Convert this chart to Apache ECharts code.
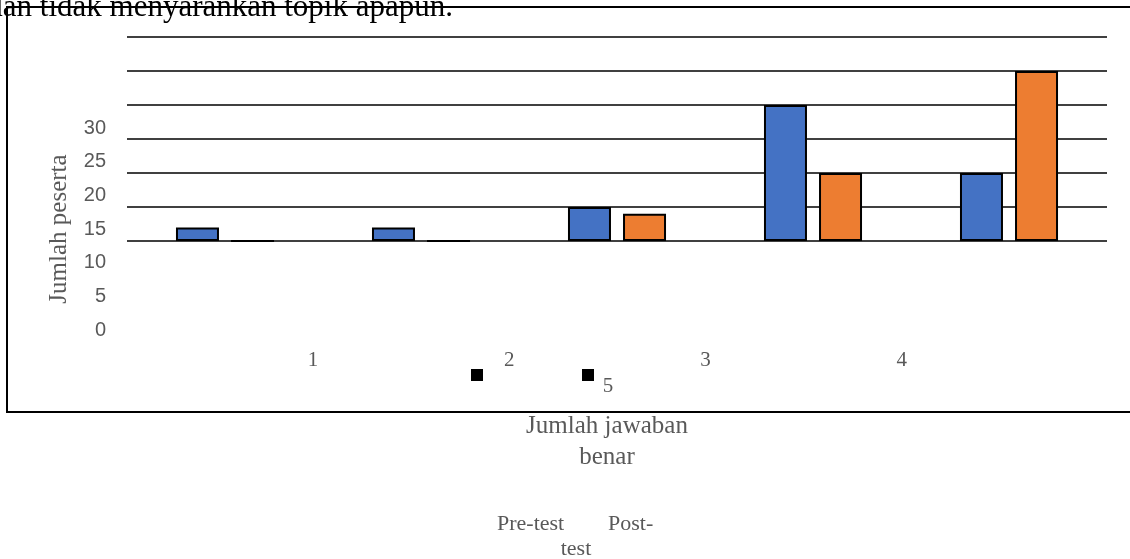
<!DOCTYPE html>
<html>
<head>
<meta charset="utf-8">
<script src="https://cdn.jsdelivr.net/npm/echarts@6/dist/echarts.min.js"></script>
<style>
html,body{margin:0;padding:0;background:#fff;}
#chart{width:1130px;height:559px;}
</style>
</head>
<body>
<div id="chart"></div>
<script>
const categories = ['1', '2', '3', '4', '5'];
const preTest = [2, 2, 5, 20, 10];
const postTest = [0, 0, 4, 10, 25];
const seriesNames = ['Pre-test', 'Post-test'];
const yMin = 0, yMax = 30, yStep = 5;
const headText = 'dan tidak menyarankan topik apapun.';
const yTitle = 'Jumlah peserta';
const xTitle = 'Jumlah jawaban\nbenar';

const serif = '"Liberation Serif", "Times New Roman", serif';
const sans = '"Liberation Sans", Arial, sans-serif';
const gray = '#595959';

const chart = echarts.init(document.getElementById('chart'));
chart.setOption({
  animation: false,
  backgroundColor: '#fff',
  grid: [
    {left: 127, right: 23, top: 37, bottom: 318},
    {left: 127, width: 10, top: 128, bottom: 229},
    {left: 313, width: 785, top: 100, bottom: 209}
  ],
  xAxis: [
    {gridIndex: 0, type: 'category', data: categories,
      axisLine: {show: false}, axisTick: {show: false}, axisLabel: {show: false}, splitLine: {show: false}},
    {gridIndex: 1, type: 'category', show: false},
    {gridIndex: 2, type: 'category', data: categories, boundaryGap: false,
      axisLine: {show: false}, axisTick: {show: false}, splitLine: {show: false},
      axisLabel: {interval: 0, color: gray, fontFamily: serif, fontSize: 21, margin: 10, verticalAlign: 'middle',
        formatter: (v, i) => (i < categories.length - 1 ? v : '')}}
  ],
  yAxis: [
    {gridIndex: 0, type: 'value', min: yMin, max: yMax, interval: yStep,
      axisLabel: {show: false}, axisLine: {show: false}, axisTick: {show: false},
      splitLine: {show: true, lineStyle: {color: '#000', width: 1.5}}},
    {gridIndex: 1, type: 'value', min: yMin, max: yMax, interval: yStep,
      axisLine: {show: false}, axisTick: {show: false}, splitLine: {show: false},
      axisLabel: {color: gray, fontFamily: sans, fontSize: 20, margin: 21},
      name: yTitle, nameLocation: 'middle', nameRotate: 90, nameGap: 55,
      nameTextStyle: {color: gray, fontFamily: serif, fontSize: 25}},
    {gridIndex: 2, type: 'value', show: false}
  ],
  legend: {
    data: seriesNames, left: 466, top: 364, icon: 'rect', itemWidth: 12, itemHeight: 12, itemGap: 99,
    formatter: () => '', itemStyle: {color: '#000', borderWidth: 0}, selectedMode: false
  },
  series: [
    {name: seriesNames[0], type: 'bar', xAxisIndex: 0, yAxisIndex: 0, data: preTest,
      barWidth: 43, barGap: '28%',
      itemStyle: {color: '#4472C4', borderColor: '#000', borderWidth: 2}},
    {name: seriesNames[1], type: 'bar', xAxisIndex: 0, yAxisIndex: 0, data: postTest,
      barWidth: 43, barGap: '28%',
      itemStyle: {color: '#ED7D31', borderColor: '#000', borderWidth: 2}}
  ],
  graphic: [
    {type: 'rect', z: 100, shape: {x: 7, y: 7, width: 1200, height: 405},
      style: {fill: 'none', stroke: '#000', lineWidth: 2}},
    {type: 'text', z: 101, x: 453, y: 8,
      style: {text: headText, font: '31px ' + serif, fill: '#000', align: 'right', verticalAlign: 'middle'}},
    {type: 'text', x: 607, y: 411,
      style: {text: xTitle, font: '25px ' + serif, fill: gray, align: 'center', verticalAlign: 'top', lineHeight: 31}},
    {type: 'text', x: 608, y: 386,
      style: {text: categories[4], font: '21px ' + serif, fill: gray, align: 'center', verticalAlign: 'middle'}},
    {type: 'text', x: 497, y: 524,
      style: {text: 'Pre-test', font: '22px ' + serif, fill: gray, align: 'left', verticalAlign: 'middle'}},
    {type: 'text', x: 608, y: 524,
      style: {text: 'Post-', font: '22px ' + serif, fill: gray, align: 'left', verticalAlign: 'middle'}},
    {type: 'text', x: 576, y: 549,
      style: {text: 'test', font: '22px ' + serif, fill: gray, align: 'center', verticalAlign: 'middle'}}
  ]
});
</script>
</body>
</html>
